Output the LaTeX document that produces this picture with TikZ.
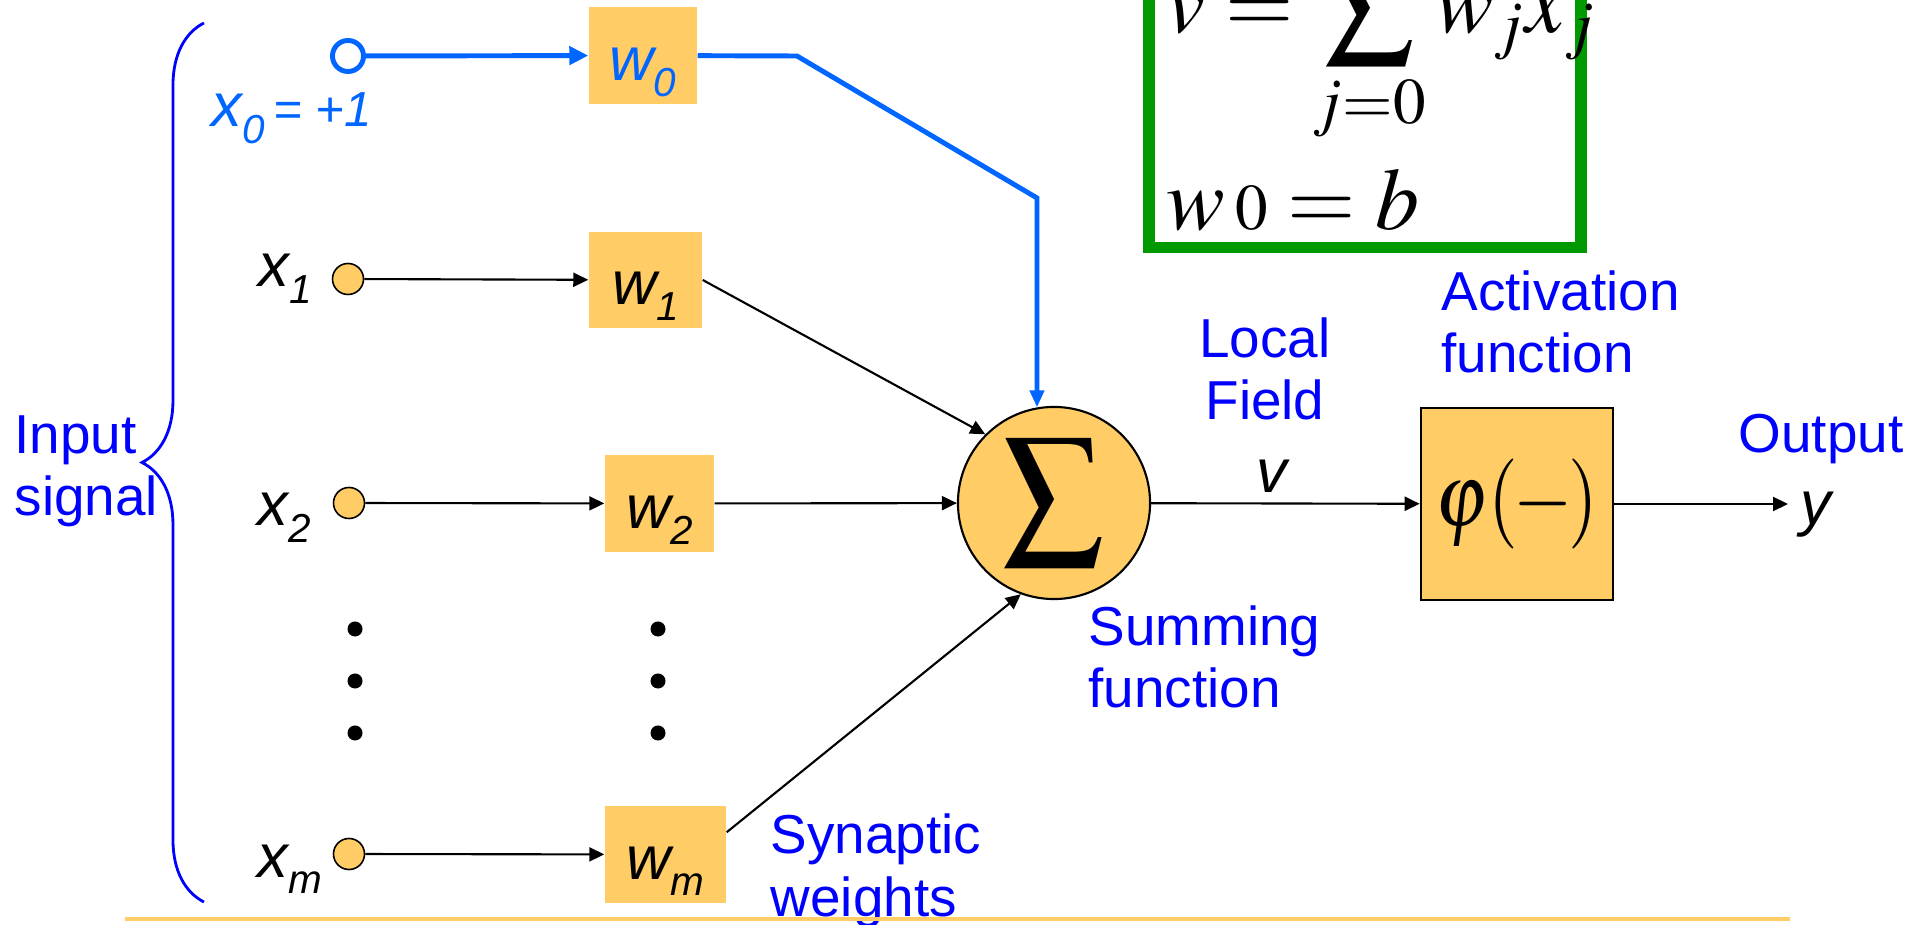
\documentclass[tikz,border=0pt]{standalone}
\usepackage{mathptmx}
\usepackage[no-math]{fontspec}
\setmainfont{Liberation Sans}
\usetikzlibrary{arrows.meta,decorations.pathreplacing}

\definecolor{wfill}{RGB}{255,204,102}
\definecolor{biasblue}{RGB}{0,102,255}
\definecolor{eqgreen}{RGB}{0,153,0}
\definecolor{lblblue}{RGB}{0,0,255}

\newcommand{\lowsub}[1]{\raisebox{-0.16cm}{\fontsize{11.5}{12}\selectfont #1}}
\newcommand{\lblfont}{\fontsize{15.6}{17.9}\selectfont}
\newcommand{\varfont}{\fontsize{17.5}{20}\selectfont\itshape}

\tikzset{
  wbox/.style={fill=wfill, inner sep=0pt, minimum height=0.96cm, text height=0.55cm, text depth=0.06cm, font=\varfont},
  inpt/.style={circle, draw, fill=wfill, line width=0.45pt, minimum size=0.31cm, inner sep=0pt},
  varlbl/.style={inner sep=0pt, font=\varfont, anchor=base west},
  bluelbl/.style={inner sep=0pt, text=lblblue, font=\lblfont, align=left, anchor=base west},
  conn/.style={line width=0.6pt, -{Triangle[length=0.15cm,width=0.14cm]}},
  bias/.style={line width=1.4pt, biasblue},
}

\begin{document}
\begin{tikzpicture}[x=0.01cm, y=-0.01cm]
  \useasboundingbox (0,0) rectangle (1909,925);

  % inputs
  \node[inpt, fill=white, draw=biasblue, line width=1.4pt] (x0) at (348,56) {};
  \node[inpt] (x1) at (348,279) {};
  \node[inpt] (x2) at (349,503) {};
  \node[inpt] (xm) at (349,854) {};
  \node[varlbl, text=biasblue] (lblx0) at (211,127) {x\lowsub{0}{\fontsize{14}{16}\selectfont\,= +1}};
  \node[varlbl] (lblx1) at (258,287) {x\lowsub{1}};
  \node[varlbl] (lblx2) at (257,526) {x\lowsub{2}};
  \node[varlbl] (lblxm) at (257,877) {x\lowsub{m}};

  % synaptic weights
  \node[wbox, text=biasblue, minimum width=1.08cm] (w0) at (643,55.5) {w\lowsub{0}};
  \node[wbox, minimum width=1.13cm] (w1) at (645.5,280) {w\lowsub{1}};
  \node[wbox, minimum width=1.09cm] (w2) at (659.5,503.5) {w\lowsub{2}};
  \node[wbox, minimum width=1.21cm] (wm) at (665.5,854.5) {w\lowsub{m}};
  \foreach \dy in {629,681,733} {
    \fill (355,\dy) circle (0.075cm);
    \fill (658,\dy) circle (0.075cm);
  }

  % summing junction and activation
  \node[circle, draw, fill=wfill, line width=0.6pt, minimum size=1.92cm, inner sep=0pt] (sum) at (1054,503)
    {\resizebox*{1.02cm}{1.28cm}{$\displaystyle\sum$}};
  \node[draw, fill=wfill, line width=0.7pt, minimum width=1.92cm, minimum height=1.92cm, inner sep=0pt] (act) at (1517,504)
    {\raisebox{0.08cm}{\resizebox*{1.62cm}{0.9cm}{$\varphi(\mkern-1mu-\mkern-1mu)$}}};
  \coordinate (yout) at (1788,504);
  \node[varlbl, anchor=base] (lblv) at (1272,493) {v};
  \node[varlbl] (lbly) at (1800,525) {y};

  % connections
  \draw[conn, bias, -{Triangle[length=0.19cm,width=0.18cm]}] (x0) -- (w0);
  \draw[conn] (x1) -- (w1);
  \draw[conn] (x2) -- (w2);
  \draw[conn] (xm) -- (wm);
  \draw[conn] (w1.east) -- (sum.135);
  \draw[conn] (w2) -- (sum);
  \draw[conn] (wm.20) -- (sum.250);
  \draw[conn] (sum) -- (act);
  \draw[conn] (act) -- (yout);
  \coordinate (bendA) at (797,56);
  \coordinate (bendB) at (1037,198);
  \draw[bias, -{Triangle[length=0.17cm,width=0.14cm]}] (w0) -- (bendA) -- (bendB) -- (bendB |- sum.100);

  % equations
  \draw[eqgreen, line width=3.4pt] (1149,-40) rectangle (1581,247.5);
  \node[anchor=base west, inner sep=0pt] (eqv) at (1166,33)
    {\fontsize{25}{30}\selectfont$\displaystyle v = \sum_{j=0} w_j x_j$};
  \node[anchor=base west, inner sep=0pt] (eqb) at (1166,230)
    {\fontsize{25}{30}\selectfont$w\,{\scriptstyle 0} = b$};

  % labels
  \draw[lblblue, line width=0.8pt, decorate, decoration={brace, amplitude=0.62cm}] (204,902) -- (204,23);
  \node[bluelbl] (lblin) at (14,516) {Input\\signal};
  \node[bluelbl, align=center, anchor=base] (lblfield) at (1265,420) {Local\\Field};
  \node[bluelbl] (lblact) at (1441,373) {Activation\\function};
  \node[bluelbl] (lblout) at (1738,453) {Output};
  \node[bluelbl] (lblsum) at (1088,708) {Summing\\function};
  \node[bluelbl] (lblsyn) at (770,916) {Synaptic\\weights};
  \draw[wfill, line width=1.2pt] (125,919) -- (1790,919);
\end{tikzpicture}
\end{document}
